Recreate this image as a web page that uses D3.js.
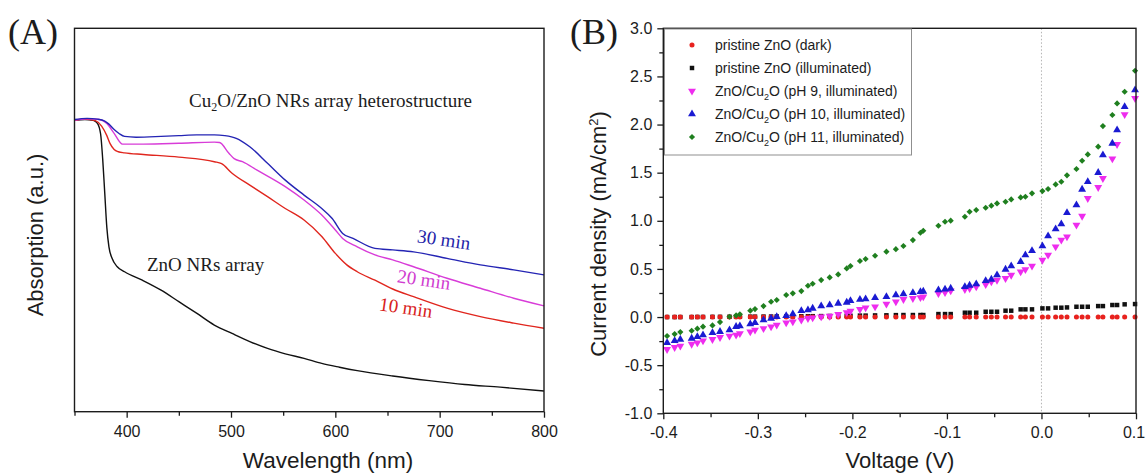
<!DOCTYPE html>
<html>
<head>
<meta charset="utf-8">
<script src="https://cdn.jsdelivr.net/npm/d3@7"></script>
<style>
  body { margin: 0; background: #fff; }
  svg { display: block; }
</style>
</head>
<body>
<svg id="fig" width="1146" height="474"></svg>
<script>
// ---------- Panel A: UV-vis absorption spectra ----------
const wlZnO  = [350, 360, 368, 372, 375, 377, 379, 381, 383, 386, 391, 398, 415, 433, 450, 467, 484, 501, 518, 535, 552, 570, 587, 604, 621, 655, 690, 724, 758, 800];
const absZnO = [0.760, 0.762, 0.760, 0.752, 0.725, 0.660, 0.570, 0.480, 0.430, 0.400, 0.378, 0.365, 0.343, 0.317, 0.287, 0.257, 0.226, 0.204, 0.183, 0.165, 0.151, 0.139, 0.126, 0.116, 0.107, 0.093, 0.081, 0.071, 0.064, 0.054];

const wl10  = [350, 360, 370, 376, 381, 384, 388, 392, 398, 416, 450, 484, 491, 501, 518, 535, 552, 570, 587, 600, 611, 621, 638, 655, 675, 707, 739, 771, 800];
const abs10 = [0.760, 0.763, 0.759, 0.745, 0.720, 0.700, 0.684, 0.678, 0.675, 0.671, 0.664, 0.652, 0.647, 0.622, 0.591, 0.561, 0.530, 0.500, 0.457, 0.413, 0.383, 0.365, 0.343, 0.320, 0.300, 0.270, 0.248, 0.231, 0.2175];

const wl20  = [350, 362, 374, 381, 388, 396, 416, 450, 484, 489, 498, 503, 511, 525, 552, 570, 587, 600, 607, 621, 638, 655, 675, 707, 739, 771, 800];
const abs20 = [0.760, 0.764, 0.762, 0.752, 0.726, 0.698, 0.698, 0.700, 0.703, 0.702, 0.674, 0.660, 0.652, 0.630, 0.587, 0.552, 0.513, 0.474, 0.452, 0.430, 0.409, 0.396, 0.378, 0.348, 0.322, 0.296, 0.276];

const wl30  = [350, 362, 372, 379, 383, 388, 393, 398, 409, 433, 450, 467, 484, 494, 505, 518, 535, 552, 570, 587, 597, 607, 617, 638, 655, 675, 707, 739, 771, 800];
const abs30 = [0.762, 0.765, 0.763, 0.758, 0.750, 0.736, 0.725, 0.718, 0.716, 0.718, 0.720, 0.722, 0.722, 0.720, 0.713, 0.691, 0.648, 0.604, 0.565, 0.530, 0.504, 0.465, 0.452, 0.426, 0.422, 0.417, 0.400, 0.383, 0.370, 0.357];

const wlMajorTicks = [400, 500, 600, 700, 800];
const wlMinorTicks = [350, 450, 550, 650, 750];

// ---------- Panel B: J-V curves ----------
const voltage = [-0.396, -0.388, -0.382, -0.370, -0.364, -0.358, -0.348, -0.340, -0.330, -0.323, -0.319, -0.308, -0.303, -0.294, -0.286, -0.280, -0.270, -0.263, -0.254, -0.247, -0.242, -0.233, -0.224, -0.215, -0.206, -0.202, -0.192, -0.186, -0.176, -0.164, -0.154, -0.146, -0.136, -0.128, -0.125, -0.109, -0.102, -0.096, -0.081, -0.076, -0.069, -0.059, -0.053, -0.047, -0.038, -0.032, -0.022, -0.017, -0.010, 0.001, 0.007, 0.015, 0.021, 0.027, 0.037, 0.043, 0.049, 0.060, 0.065, 0.075, 0.080, 0.088, 0.099];

const jDark = [0.000, 0.000, 0.000, 0.000, 0.000, 0.000, 0.000, 0.000, 0.000, 0.000, 0.000, 0.000, 0.000, 0.000, 0.000, 0.000, 0.000, 0.000, 0.000, 0.000, 0.000, 0.000, 0.000, 0.000, 0.000, 0.000, 0.000, 0.000, 0.000, 0.000, 0.000, 0.000, 0.000, 0.000, 0.000, 0.000, 0.000, 0.000, 0.000, 0.000, 0.000, 0.000, 0.000, 0.000, 0.000, 0.000, 0.000, 0.000, 0.000, 0.000, 0.000, 0.000, 0.000, 0.000, 0.000, 0.000, 0.000, 0.000, 0.000, 0.000, 0.000, 0.000, 0.000];

const jIllum = [0.000, 0.000, 0.000, 0.000, 0.001, 0.001, 0.002, 0.002, 0.003, 0.003, 0.003, 0.004, 0.004, 0.005, 0.005, 0.006, 0.006, 0.007, 0.008, 0.008, 0.009, 0.010, 0.011, 0.012, 0.013, 0.013, 0.015, 0.015, 0.017, 0.018, 0.020, 0.021, 0.021, 0.021, 0.021, 0.031, 0.031, 0.031, 0.045, 0.045, 0.045, 0.055, 0.055, 0.055, 0.066, 0.066, 0.080, 0.080, 0.080, 0.090, 0.090, 0.097, 0.097, 0.100, 0.107, 0.107, 0.107, 0.114, 0.114, 0.125, 0.125, 0.132, 0.135];

const jPH9 = [-0.336, -0.315, -0.301, -0.281, -0.267, -0.246, -0.232, -0.211, -0.197, -0.187, -0.170, -0.152, -0.135, -0.118, -0.100, -0.083, -0.059, -0.048, -0.031, -0.014, -0.007, 0.003, 0.010, 0.028, 0.048, 0.062, 0.080, 0.097, 0.107, 0.135, 0.159, 0.184, 0.194, 0.204, 0.211, 0.246, 0.256, 0.274, 0.288, 0.298, 0.315, 0.339, 0.367, 0.384, 0.402, 0.436, 0.471, 0.495, 0.530, 0.592, 0.644, 0.731, 0.800, 0.834, 0.956, 1.049, 1.233, 1.347, 1.441, 1.645, 1.794, 2.104, 2.272];

const jPH10 = [-0.267, -0.246, -0.232, -0.222, -0.204, -0.187, -0.163, -0.152, -0.135, -0.100, -0.093, -0.073, -0.059, -0.031, -0.014, 0.003, 0.014, 0.031, 0.066, 0.073, 0.090, 0.114, 0.125, 0.142, 0.152, 0.170, 0.183, 0.187, 0.201, 0.211, 0.229, 0.239, 0.253, 0.263, 0.267, 0.281, 0.288, 0.298, 0.315, 0.329, 0.343, 0.377, 0.391, 0.436, 0.495, 0.530, 0.575, 0.644, 0.689, 0.738, 0.842, 0.914, 0.966, 1.084, 1.164, 1.326, 1.406, 1.500, 1.683, 1.804, 1.943, 2.185, 2.358];

const jPH11 = [-0.197, -0.177, -0.156, -0.142, -0.121, -0.100, -0.087, -0.052, 0.003, 0.017, 0.028, 0.066, 0.083, 0.114, 0.159, 0.177, 0.229, 0.246, 0.270, 0.325, 0.346, 0.384, 0.412, 0.443, 0.505, 0.530, 0.582, 0.603, 0.637, 0.679, 0.705, 0.738, 0.800, 0.876, 0.897, 0.949, 0.990, 1.001, 1.042, 1.094, 1.112, 1.136, 1.157, 1.181, 1.198, 1.222, 1.243, 1.250, 1.285, 1.309, 1.330, 1.378, 1.406, 1.472, 1.538, 1.624, 1.690, 1.770, 1.984, 2.099, 2.220, 2.341, 2.559];

const vMajorTicks = [-0.4, -0.3, -0.2, -0.1, 0.0, 0.1];
const vMinorTicks = [-0.35, -0.25, -0.15, -0.05, 0.05];
const jMajorTicks = [-1.0, -0.5, 0.0, 0.5, 1.0, 1.5, 2.0, 2.5, 3.0];
const jMinorTicks = [-0.75, -0.25, 0.25, 0.75, 1.25, 1.75, 2.25, 2.75];

const sans = "'Liberation Sans', Arial, sans-serif";
const serif = "'Liberation Serif', 'Times New Roman', serif";
const ink = "#1c1c1c";

const svg = d3.select("#fig");

function styleAxis(g, size) {
  g.select(".domain").remove();
  g.selectAll(".tick line").attr("stroke", ink).attr("stroke-width", 1.3);
  g.selectAll(".tick text").attr("fill", ink).style("font-family", sans).style("font-size", size + "px");
}

// ================= Panel A =================
const ax = d3.scaleLinear().domain([350, 800]).range([74.5, 544]);
const ay = d3.scaleLinear().domain([0, 1]).range([411.7, 28.3]);

const gA = svg.append("g");

const lineA = d3.line().x(d => ax(d[0])).y(d => ay(d[1])).curve(d3.curveMonotoneX);
const spectra = [
  { wl: wlZnO, a: absZnO, color: "#111111" },
  { wl: wl10,  a: abs10,  color: "#e0261e" },
  { wl: wl20,  a: abs20,  color: "#d83cd8" },
  { wl: wl30,  a: abs30,  color: "#2424b4" }
];
spectra.forEach(s => {
  gA.append("path")
    .datum(s.wl.map((w, i) => [w, s.a[i]]))
    .attr("d", lineA)
    .attr("fill", "none")
    .attr("stroke", s.color)
    .attr("stroke-width", 1.4);
});

// axis ticks
const axMajor = gA.append("g").attr("transform", `translate(0,${ay(0)})`)
  .call(d3.axisBottom(ax).tickValues(wlMajorTicks).tickSize(6).tickPadding(8).tickFormat(d3.format("d")));
styleAxis(axMajor, 16);
const axMinor = gA.append("g").attr("transform", `translate(0,${ay(0)})`)
  .call(d3.axisBottom(ax).tickValues(wlMinorTicks).tickSize(4).tickFormat(""));
styleAxis(axMinor, 16);

gA.append("rect")
  .attr("x", ax(350)).attr("y", ay(1))
  .attr("width", ax(800) - ax(350)).attr("height", ay(0) - ay(1))
  .attr("fill", "none").attr("stroke", ink).attr("stroke-width", 1.4);

// annotations
const heteroLabel = gA.append("text")
  .attr("x", 189).attr("y", 107)
  .attr("fill", ink)
  .style("font-family", serif).style("font-size", "19px");
heteroLabel.append("tspan").text("Cu");
heteroLabel.append("tspan").attr("dy", 4).style("font-size", "12px").text("2");
heteroLabel.append("tspan").attr("dy", -4).text("O/ZnO NRs array heterostructure");

gA.append("text")
  .attr("x", 147).attr("y", 271)
  .attr("fill", ink)
  .style("font-family", serif).style("font-size", "19px")
  .text("ZnO NRs array");

const timeLabels = [
  { t: "30 min", x: 443, y: 246, color: "#2424a8" },
  { t: "20 min", x: 423, y: 286, color: "#d03cd0" },
  { t: "10 min", x: 405, y: 314, color: "#d8221c" }
];
timeLabels.forEach(l => {
  gA.append("text")
    .attr("transform", `translate(${l.x},${l.y}) rotate(8)`)
    .attr("text-anchor", "middle")
    .attr("fill", l.color)
    .style("font-family", serif).style("font-size", "19px")
    .text(l.t);
});

gA.append("text")
  .attr("x", 8).attr("y", 44)
  .attr("fill", ink)
  .style("font-family", serif).style("font-size", "36px")
  .text("(A)");

gA.append("text")
  .attr("transform", "translate(43,235) rotate(-90)")
  .attr("text-anchor", "middle")
  .attr("fill", ink)
  .style("font-family", sans).style("font-size", "22px")
  .text("Absorption (a.u.)");

gA.append("text")
  .attr("x", 328).attr("y", 468)
  .attr("text-anchor", "middle")
  .attr("fill", ink)
  .style("font-family", sans).style("font-size", "22.5px")
  .text("Wavelength (nm)");

// ================= Panel B =================
const bx = d3.scaleLinear().domain([-0.4, 0.1]).range([663.3, 1136]);
const by = d3.scaleLinear().domain([-1.0, 3.0]).range([413.3, 28.3]);

const gB = svg.append("g");

// zero-bias guide
gB.append("line")
  .attr("x1", bx(0)).attr("x2", bx(0))
  .attr("y1", by(3.0)).attr("y2", by(-1.0))
  .attr("stroke", "#b4b4b4").attr("stroke-width", 1)
  .attr("stroke-dasharray", "1.5,2");

const symCircle = d3.symbol().type(d3.symbolCircle).size(20);
const symSquare = d3.symbol().type(d3.symbolSquare).size(20);
const symTri = d3.symbol().type(d3.symbolTriangle).size(27);
const symDiamond = d3.symbol().type(d3.symbolSquare).size(19);

const series = [
  { key: "illum", label: ["pristine ZnO (illuminated)"], j: jIllum, color: "#111111", path: symSquare(), rot: 0 },
  { key: "dark", label: ["pristine ZnO (dark)"], j: jDark, color: "#e8221e", path: symCircle(), rot: 0 },
  { key: "ph9", label: ["ZnO/Cu", "2", "O (pH 9, illuminated)"], j: jPH9, color: "#ee2cee", path: symTri(), rot: 180 },
  { key: "ph10", label: ["ZnO/Cu", "2", "O (pH 10, illuminated)"], j: jPH10, color: "#1a1ad2", path: symTri(), rot: 0 },
  { key: "ph11", label: ["ZnO/Cu", "2", "O (pH 11, illuminated)"], j: jPH11, color: "#1f7f1f", path: symDiamond(), rot: 45 }
];

series.forEach(s => {
  gB.append("g").selectAll("path")
    .data(voltage.map((v, i) => [v, s.j[i]]))
    .join("path")
    .attr("d", s.path)
    .attr("transform", d => `translate(${bx(d[0])},${by(d[1])}) rotate(${s.rot})`)
    .attr("fill", s.color);
});

// axes
const bxMajor = gB.append("g").attr("transform", `translate(0,${by(-1.0)})`)
  .call(d3.axisBottom(bx).tickValues(vMajorTicks).tickSize(6).tickPadding(7.5).tickFormat(d => d.toFixed(1)));
styleAxis(bxMajor, 16);
// keep the last label inside the page edge
bxMajor.selectAll(".tick text").filter(d => d === 0.1).attr("dx", -2.5);
const bxMinor = gB.append("g").attr("transform", `translate(0,${by(-1.0)})`)
  .call(d3.axisBottom(bx).tickValues(vMinorTicks).tickSize(4).tickFormat(""));
styleAxis(bxMinor, 16);
const byMajor = gB.append("g").attr("transform", `translate(${bx(-0.4)},0)`)
  .call(d3.axisLeft(by).tickValues(jMajorTicks).tickSize(6).tickPadding(5).tickFormat(d => d.toFixed(1)));
styleAxis(byMajor, 16);
const byMinor = gB.append("g").attr("transform", `translate(${bx(-0.4)},0)`)
  .call(d3.axisLeft(by).tickValues(jMinorTicks).tickSize(4).tickFormat(""));
styleAxis(byMinor, 16);

gB.append("rect")
  .attr("x", bx(-0.4)).attr("y", by(3.0))
  .attr("width", bx(0.1) - bx(-0.4)).attr("height", by(-1.0) - by(3.0))
  .attr("fill", "none").attr("stroke", ink).attr("stroke-width", 1.4);

// legend
const legendOrder = ["dark", "illum", "ph9", "ph10", "ph11"];
const lg = gB.append("g");
lg.append("rect")
  .attr("x", 664.5).attr("y", 29)
  .attr("width", 247).attr("height", 126)
  .attr("fill", "#fff").attr("stroke", "#8f8f8f").attr("stroke-width", 1);
legendOrder.forEach((k, i) => {
  const s = series.find(d => d.key === k);
  const yy = 45 + i * 23;
  lg.append("path")
    .attr("d", s.path)
    .attr("transform", `translate(692,${yy}) rotate(${s.rot})`)
    .attr("fill", s.color);
  const t = lg.append("text")
    .attr("x", 715).attr("y", yy + 5)
    .attr("fill", ink)
    .style("font-family", sans).style("font-size", "14px");
  if (s.label.length === 1) {
    t.text(s.label[0]);
  } else {
    t.append("tspan").text(s.label[0]);
    t.append("tspan").attr("dy", 4).style("font-size", "9px").text(s.label[1]);
    t.append("tspan").attr("dy", -4).text(s.label[2]);
  }
});

gB.append("text")
  .attr("x", 570).attr("y", 44)
  .attr("fill", ink)
  .style("font-family", serif).style("font-size", "36px")
  .text("(B)");

const yTitle = gB.append("text")
  .attr("transform", "translate(606,234) rotate(-90)")
  .attr("text-anchor", "middle")
  .attr("fill", ink)
  .style("font-family", sans).style("font-size", "22px");
yTitle.append("tspan").text("Current density (mA/cm");
yTitle.append("tspan").attr("dy", -8).style("font-size", "13px").text("2");
yTitle.append("tspan").attr("dy", 8).text(")");

gB.append("text")
  .attr("x", 900).attr("y", 468)
  .attr("text-anchor", "middle")
  .attr("fill", ink)
  .style("font-family", sans).style("font-size", "22px")
  .text("Voltage (V)");
</script>
</body>
</html>
